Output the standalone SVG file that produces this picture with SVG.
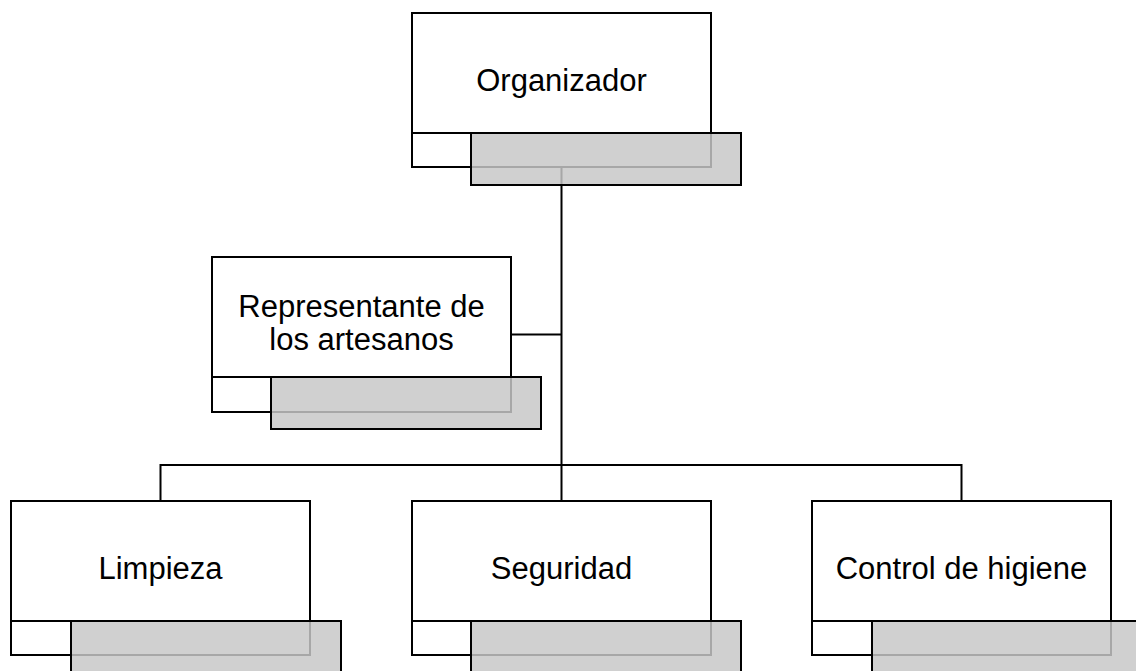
<svg xmlns="http://www.w3.org/2000/svg" width="1136" height="671" viewBox="0 0 1136 671">
<style>
.box{fill:#ffffff;stroke:#000000;stroke-width:2}
.shade{fill:#c7c7c7;fill-opacity:0.84;stroke:#000000;stroke-width:2}
.lbl{font-family:"Liberation Sans",Arial,sans-serif;font-size:31px;fill:#000000;text-anchor:middle}
.conn{fill:none;stroke:#000000;stroke-width:2}
</style>
<rect width="1136" height="671" fill="#ffffff"/>
<g id="connectors">
<path class="conn" d="M561.5,167 V501"/>
<path class="conn" d="M511,334.5 H561.5"/>
<path class="conn" d="M160.5,501 V465 H961.5 V501"/>
</g>
<g id="node-organizador">
<rect class="box" x="412" y="133" width="299" height="34"/>
<rect class="box" x="412" y="13" width="299" height="120"/>
<rect class="shade" x="471" y="133" width="270" height="52"/>
<text class="lbl" x="561.5" y="91">Organizador</text>
</g>
<g id="node-representante">
<rect class="box" x="212" y="377" width="299" height="35"/>
<rect class="box" x="212" y="257" width="299" height="120"/>
<rect class="shade" x="271" y="377" width="270" height="52"/>
<text class="lbl" x="361.5" y="317">Representante de</text>
<text class="lbl" x="361.5" y="350">los artesanos</text>
</g>
<g id="node-limpieza">
<rect class="box" x="11" y="621" width="299" height="34"/>
<rect class="box" x="11" y="501" width="299" height="120"/>
<rect class="shade" x="71" y="621" width="270" height="52"/>
<text class="lbl" x="160.5" y="579">Limpieza</text>
</g>
<g id="node-seguridad">
<rect class="box" x="412" y="621" width="299" height="34"/>
<rect class="box" x="412" y="501" width="299" height="120"/>
<rect class="shade" x="471" y="621" width="270" height="52"/>
<text class="lbl" x="561.5" y="579">Seguridad</text>
</g>
<g id="node-control">
<rect class="box" x="812" y="621" width="299" height="34"/>
<rect class="box" x="812" y="501" width="299" height="120"/>
<rect class="shade" x="872" y="621" width="270" height="52"/>
<text class="lbl" x="961.5" y="579">Control de higiene</text>
</g>
</svg>
